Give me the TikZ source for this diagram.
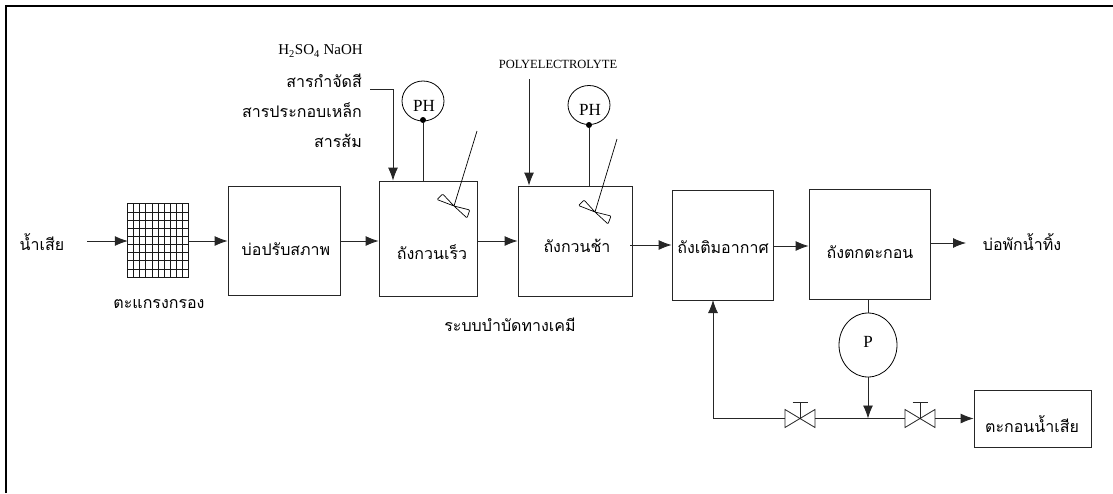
\documentclass[tikz,border=0pt]{standalone}
\usepackage{fontspec}
\setmainfont{Liberation Serif}
\newfontfamily\thaifont[Script=Thai]{Loma}
\usetikzlibrary{arrows.meta,shapes.geometric,calc}
\tikzset{
  box/.style={draw=black!85,line width=0.85pt,rectangle,inner sep=0pt},
  flow/.style={draw=black!85,line width=0.85pt,-{Latex[length=13pt,width=10pt]}},
  pipe/.style={draw=black!85,line width=0.85pt},
  thin line/.style={draw=black,line width=0.7pt},
  thlabel/.style={inner sep=0pt,anchor=base,font=\thaifont\fontsize{16}{18}\selectfont},
  enlabel/.style={inner sep=0pt,font=\fontsize{17}{19}\selectfont},
  meter/.style={draw=black,line width=0.8pt,ellipse,inner sep=0pt},
  dot/.style={circle,fill=black,inner sep=0pt,minimum size=6pt},
  valve/.style={draw=black!85,line width=0.8pt,fill=white},
}
\begin{document}
\begin{tikzpicture}[x=1pt,y=-1pt]
\useasboundingbox (0,0) rectangle (1113,493);
% frame: only the top and left edges are visible
\draw[black,line width=2pt] (6,493) -- (6,6) -- (1113,6);

% tanks
\node[box,minimum width=112pt,minimum height=109pt] (pond) at (284,240.5) {};
\node[box,minimum width=98pt,minimum height=115pt] (fast) at (428,238.5) {};
\node[box,minimum width=114pt,minimum height=110pt] (slow) at (575,241) {};
\node[box,minimum width=101pt,minimum height=110pt] (air) at (722.5,245) {};
\node[box,minimum width=121pt,minimum height=110pt] (settle) at (869.5,244) {};
\node[box,minimum width=117pt,minimum height=57pt] (sludge) at (1032.5,418.5) {};

% screen
\node[rectangle,inner sep=0pt,minimum width=60pt,minimum height=73pt] (screen) at (158,240.5) {};
\draw[black!90,line width=0.9pt] (screen.north west) rectangle (screen.south east);
\foreach \i in {1,...,9}
  \draw[black!90,line width=0.9pt] ($(screen.north west)!\i/10!(screen.north east)$) -- ($(screen.south west)!\i/10!(screen.south east)$);
\foreach \i in {1,...,8}
  \draw[black!90,line width=0.9pt] ($(screen.north west)!\i/9!(screen.south west)$) -- ($(screen.north east)!\i/9!(screen.south east)$);

% labels of the tanks
\node[thlabel] (lwaste) at (42,250) {น้ำเสีย};
\node[thlabel] (lscreen) at (159,308) {ตะแกรงกรอง};
\node[thlabel] (lpond) at (286,255) {บ่อปรับสภาพ};
\node[thlabel] (lfast) at (432,259) {ถังกวนเร็ว};
\node[thlabel] (lslow) at (577,252) {ถังกวนช้า};
\node[thlabel] (lair) at (723,253) {ถังเติมอากาศ};
\node[thlabel] (lsettle) at (870,258) {ถังตกตะกอน};
\node[thlabel] (lout) at (1022,250) {บ่อพักน้ำทิ้ง};
\node[thlabel] (lsludge) at (1032,432) {ตะกอนน้ำเสีย};
\node[thlabel] (lchem) at (510,331) {ระบบบำบัดทางเคมี};

% chemicals
\node[inner sep=0pt,font=\fontsize{15}{17}\selectfont,anchor=east] (c1) at (363,51) {H\textsubscript{2}SO\textsubscript{4} NaOH};
\node[thlabel,anchor=base east] (c2) at (362,87) {สารกำจัดสี};
\node[thlabel,anchor=base east] (c3) at (362,117) {สารประกอบเหล็ก};
\node[thlabel,anchor=base east] (c4) at (362,147) {สารส้ม};
\node[inner sep=0pt,font=\fontsize{12.5}{14}\selectfont] (poly) at (558,64) {POLYELECTROLYTE};

% main flow
\coordinate (start) at (87,241);
\coordinate (polyend) at (529,79);
\coordinate (chemend) at (370,89);
\coordinate (outend) at (966,243);
\draw[flow] (start) -- (start -| screen.west);
\draw[flow] (screen.east |- start) -- (start -| pond.west);
\draw[flow] (pond.east |- start) -- (start -| fast.west);
\draw[flow] (fast.east |- start) -- (start -| slow.west);
\coordinate (s2) at (630,245);
\draw[flow] (s2) -- (s2 -| air.west);
\coordinate (s3) at (773,246);
\draw[flow] (s3) -- (s3 -| settle.west);
\draw[flow] (settle.east |- outend) -- (outend);

% dosing
\coordinate (chemknee) at (393,89);
\draw[flow] (chemend) -- (chemknee) -- (chemknee |- fast.north);
\draw[flow] (polyend) -- (polyend |- slow.north);

% pH meters
\node[meter,minimum width=42pt,minimum height=40pt] (ph1) at (423,101) {};
\node[enlabel] (ph1t) at (424,106) {PH};
\node[dot] (d1) at (423,120) {};
\draw[pipe] (d1) -- (d1 |- fast.north);
\node[meter,minimum width=42pt,minimum height=39pt] (ph2) at (589,105) {};
\node[enlabel] (ph2t) at (590,110) {PH};
\node[dot] (d2) at (589,125) {};
\draw[pipe] (d2) -- (d2 |- slow.north);

% mixers
\coordinate (m1) at (454,206);
\coordinate (m1top) at (477,131);
\draw[thin line] (m1top) -- (m1);
\draw[thin line,rounded corners=1pt] (m1) -- (442.7,194) -- (437,199.5) -- (m1) -- (469.8,210) -- (467,218) -- cycle;
\coordinate (m2) at (595,212);
\coordinate (m2top) at (617,139);
\draw[thin line] (m2top) -- (m2);
\draw[thin line,rounded corners=1pt] (m2) -- (584,200) -- (578.5,205.5) -- (m2) -- (611,216) -- (608,224) -- cycle;

% pump and return line
\node[meter,minimum width=58pt,minimum height=64pt] (pump) at (868,345) {};
\node[enlabel] (pumpt) at (868,342) {P};
\draw[pipe] (pump.north) -- (pump.north |- settle.south);
\coordinate (junction) at (868,418.5);
\draw[flow] (pump.south) -- (junction);

% valves
\coordinate (v1) at (800,418.5);
\coordinate (v2) at (920,418.5);
\foreach \v in {v1,v2} {
  \draw[valve] ($(\v)+(-15,-9)$) -- ($(\v)+(15,9)$) -- ($(\v)+(15,-9)$) -- ($(\v)+(-15,9)$) -- cycle;
  \draw[valve] (\v) -- ($(\v)+(0,-16)$) ($(\v)+(-7.5,-16)$) -- ($(\v)+(7.5,-16)$);
}
\draw[pipe] ($(v1)+(15,0)$) -- ($(v2)+(-15,0)$);
\coordinate (ret) at (713,300);
\draw[flow] ($(v1)+(-15,0)$) -| (ret);
\draw[flow] ($(v2)+(15,0)$) -- (sludge.west |- v2);
\end{tikzpicture}
\end{document}
